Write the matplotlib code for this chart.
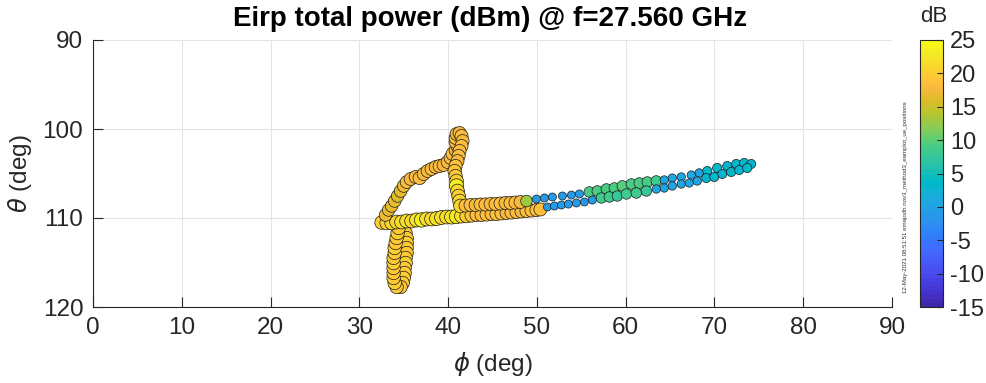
import numpy as np
import matplotlib
matplotlib.use("Agg")
import matplotlib.pyplot as plt
from matplotlib.colors import ListedColormap

plt.rcParams['font.family'] = ['Liberation Sans', 'DejaVu Sans']
plt.rcParams['mathtext.fontset'] = 'dejavusans'
plt.rcParams['axes.unicode_minus'] = False

# ---- user-equipment positions (phi, theta in deg) and EIRP (dBm) ----
# vertical loop
loop_phi = [34.99, 35.21, 35.33, 35.33, 35.33, 35.33, 35.21, 35.21, 35.10, 35.10, 34.99, 34.88, 34.65,
            34.20, 33.98, 33.86, 33.86, 33.86, 33.86, 33.86, 33.98, 33.98, 34.09, 34.20, 34.31, 34.43]
loop_theta = [111.12, 111.69, 112.25, 112.81, 113.37, 113.93, 114.49, 115.06, 115.62, 116.18, 116.74, 117.30, 117.75,
              117.75, 117.30, 116.74, 116.18, 115.62, 115.06, 114.49, 113.93, 113.37, 112.81, 112.25, 111.69, 111.12]
loop_pwr = [19.8, 19.5, 19.9, 20.2, 19.7, 19.4, 19.8, 20.1, 19.6, 19.9, 20.3, 19.7, 19.5,
            19.6, 20.0, 19.8, 19.4, 19.9, 20.2, 19.7, 19.5, 20.0, 19.8, 19.6, 20.1, 19.9]

# lower horizontal band
band_phi = [32.51, 33.08, 33.64, 34.20, 34.76, 35.33, 35.89, 36.45, 37.01, 37.58, 38.14, 38.70, 39.26,
            39.83, 40.39, 40.95, 41.51, 42.08, 42.64, 43.20, 43.76, 44.33, 44.89, 45.45, 46.01, 46.58,
            47.14, 47.70, 48.26, 48.83, 49.39, 49.95, 50.40]
band_theta = [110.51, 110.56, 110.56, 110.45, 110.45, 110.34, 110.34, 110.22, 110.22, 110.11, 110.11, 110.06,
              109.94, 109.89, 109.89, 109.83, 109.78, 109.78, 109.72, 109.66, 109.66, 109.61, 109.55, 109.55,
              109.49, 109.44, 109.38, 109.33, 109.27, 109.21, 109.16, 109.10, 109.04]
band_pwr = [20.2, 20.5, 20.8, 21.0,
            21.3, 21.6, 21.2, 22.0, 23.2, 21.8, 21.5, 22.2, 21.7, 21.4, 22.0, 23.4, 21.6,
            20.0, 19.0, 18.6, 18.3, 18.5, 18.2, 18.8, 18.4, 18.1, 18.6, 18.3, 18.0, 18.5, 18.2, 18.7, 18.4]

# triangular excursion up to theta ~100 deg
tri_phi = [32.96, 33.30, 33.64, 33.98, 34.31, 34.65, 34.99,
           35.33, 35.78, 36.34, 36.79, 37.24, 37.69, 38.14, 38.59, 39.04, 39.49, 39.94,
           40.28, 40.50, 40.84, 41.06, 40.84, 40.84, 40.95, 41.29, 41.51, 41.63, 41.51,
           41.29, 41.18, 41.06, 40.84, 40.73, 40.84, 40.95, 40.95, 41.06, 41.18, 41.29, 41.40]
tri_theta = [109.66, 109.10, 108.65, 108.09, 107.53, 106.97, 106.40,
             105.96, 105.62, 105.39, 105.51, 105.06, 104.72, 104.49, 104.27, 104.16, 104.04, 103.71,
             103.26, 102.81, 102.36, 101.91, 101.46, 101.01, 100.56, 100.45, 100.79, 101.35, 101.91,
             102.47, 103.03, 103.60, 104.16, 104.72, 105.28, 105.84, 106.40, 106.97, 107.53, 108.09, 108.65]
tri_pwr = [17.0, 16.5, 16.3, 16.6, 16.2, 16.8, 17.0,
           17.5, 17.8, 18.0, 18.4, 17.9, 18.1, 18.3, 17.8, 18.2, 18.0, 17.9,
           18.0, 18.3, 17.8, 18.2, 18.5, 18.0, 17.7, 18.1, 18.4, 18.0, 18.2,
           18.3, 18.5, 18.1, 18.8, 19.2, 19.6, 20.5, 23.5, 21.0, 20.6, 20.8, 21.2]

# upper band towards phi ~50 deg
mid_phi = [41.96, 42.53, 43.09, 43.65, 44.21, 44.78, 45.34, 45.90, 46.46, 47.03, 47.59, 48.15, 48.83]
mid_theta = [108.60, 108.54, 108.54, 108.48, 108.48, 108.43, 108.43, 108.37, 108.31, 108.31, 108.26, 108.20, 108.09]
mid_pwr = [18.2, 18.5, 18.0, 18.3, 18.6, 18.1, 18.4, 18.2, 18.0, 18.5, 18.3, 17.8, 12.5]

# outbound track to phi ~74 deg (upper strand)
out_phi = [49.95, 50.85, 51.75, 52.88, 53.89, 54.79,
           55.91, 56.81, 57.83, 58.73, 59.63, 60.64, 61.54, 62.44, 63.45,
           64.35, 65.25, 66.26, 67.39, 68.29,
           69.19, 70.31, 71.44, 72.45, 73.35, 74.14]
out_theta = [107.87, 107.75, 107.64, 107.53, 107.42, 107.30,
             107.08, 106.97, 106.74, 106.63, 106.40, 106.18, 106.07, 105.96, 105.84,
             105.73, 105.51, 105.39, 105.17, 104.94,
             104.72, 104.38, 104.16, 103.93, 103.82, 103.93]
out_pwr = [-1.0, -0.8, -1.2, -0.9, -1.1, -0.7,
           9.0, 9.3, 8.8, 9.1, 9.4, 8.9, 9.2, 9.0, 8.7,
           0.5, 0.1, 0.4, 0.0, 0.6,
           3.2, 3.5, 3.0, 3.4, 3.6, 3.1]

# return track (lower strand)
ret_phi = [51.19, 51.98, 52.76, 53.55, 54.45, 55.35, 56.25,
           57.26, 58.16, 59.06, 60.08, 61.20, 62.33,
           63.45, 64.35, 65.25, 66.26, 67.16, 68.06,
           69.08, 69.98, 70.88, 71.89, 72.79, 73.69]
ret_theta = [108.76, 108.65, 108.54, 108.43, 108.31, 108.20, 107.98,
             107.75, 107.64, 107.53, 107.30, 107.19, 106.97,
             106.74, 106.63, 106.40, 106.18, 106.07, 105.84,
             105.51, 105.39, 105.06, 104.83, 104.61, 104.38]
ret_pwr = [-1.2, -0.9, -1.1, -0.8, -1.0, -1.3, -0.7,
           8.2, 8.5, 8.0, 8.4, 8.6, 8.1,
           0.4, 0.1, 0.5, 0.2, 0.0, 0.4,
           3.0, 3.3, 2.8, 3.4, 3.1, 3.6]

clim = (-15, 25)
cbar_ticks = [-15, -10, -5, 0, 5, 10, 15, 20, 25]
x_ticks = [0, 10, 20, 30, 40, 50, 60, 70, 80, 90]
y_ticks = [90, 100, 110, 120]

PARULA = [
    [0.2422, 0.1504, 0.6603], [0.2504, 0.1650, 0.7076], [0.2578, 0.1818, 0.7511], [0.2647, 0.1978, 0.7952],
    [0.2706, 0.2147, 0.8364], [0.2751, 0.2342, 0.8710], [0.2783, 0.2559, 0.8991], [0.2803, 0.2782, 0.9221],
    [0.2813, 0.3006, 0.9414], [0.2810, 0.3228, 0.9579], [0.2795, 0.3447, 0.9717], [0.2760, 0.3667, 0.9829],
    [0.2699, 0.3892, 0.9906], [0.2602, 0.4123, 0.9952], [0.2440, 0.4358, 0.9988], [0.2206, 0.4603, 0.9973],
    [0.1963, 0.4847, 0.9892], [0.1834, 0.5074, 0.9798], [0.1786, 0.5289, 0.9682], [0.1764, 0.5499, 0.9520],
    [0.1687, 0.5703, 0.9359], [0.1540, 0.5902, 0.9218], [0.1460, 0.6091, 0.9079], [0.1380, 0.6276, 0.8973],
    [0.1248, 0.6459, 0.8883], [0.1113, 0.6635, 0.8763], [0.0952, 0.6798, 0.8598], [0.0689, 0.6948, 0.8394],
    [0.0297, 0.7082, 0.8163], [0.0036, 0.7203, 0.7917], [0.0067, 0.7312, 0.7660], [0.0433, 0.7411, 0.7394],
    [0.0964, 0.7500, 0.7120], [0.1408, 0.7584, 0.6842], [0.1717, 0.7670, 0.6554], [0.1938, 0.7758, 0.6251],
    [0.2161, 0.7843, 0.5923], [0.2470, 0.7918, 0.5567], [0.2906, 0.7973, 0.5188], [0.3406, 0.8008, 0.4789],
    [0.3909, 0.8029, 0.4354], [0.4456, 0.8024, 0.3909], [0.5044, 0.7993, 0.3480], [0.5616, 0.7942, 0.3045],
    [0.6174, 0.7876, 0.2612], [0.6720, 0.7793, 0.2227], [0.7242, 0.7698, 0.1910], [0.7738, 0.7598, 0.1646],
    [0.8203, 0.7498, 0.1535], [0.8634, 0.7406, 0.1596], [0.9035, 0.7330, 0.1774], [0.9393, 0.7288, 0.2100],
    [0.9728, 0.7298, 0.2394], [0.9956, 0.7434, 0.2371], [0.9970, 0.7659, 0.2199], [0.9952, 0.7893, 0.2028],
    [0.9892, 0.8136, 0.1885], [0.9786, 0.8386, 0.1766], [0.9676, 0.8639, 0.1643], [0.9610, 0.8890, 0.1537],
    [0.9597, 0.9135, 0.1423], [0.9628, 0.9373, 0.1265], [0.9691, 0.9606, 0.1064], [0.9769, 0.9839, 0.0805],
]
parula = ListedColormap(PARULA, name="parula")

phi = np.concatenate([loop_phi, band_phi, tri_phi, mid_phi, out_phi, ret_phi])
theta = np.concatenate([loop_theta, band_theta, tri_theta, mid_theta, out_theta, ret_theta])
pwr = np.concatenate([loop_pwr, band_pwr, tri_pwr, mid_pwr, out_pwr, ret_pwr])

# marker diameter grows with power
dpi = 100
diam_px = np.clip(8.3 + 0.26 * pwr, 7.0, None)
sizes = (diam_px * 72.0 / dpi) ** 2

W, H = 987, 383
fig = plt.figure(figsize=(W / dpi, H / dpi), dpi=dpi)
fig.patch.set_facecolor('white')

ax = fig.add_axes([93 / W, 76 / H, 799 / W, 267 / H])
dark = '#262626'

sc = ax.scatter(phi, theta, s=sizes, c=pwr, cmap=parula, vmin=clim[0], vmax=clim[1],
                edgecolors='#1a1a1a', linewidths=0.5, zorder=3)

ax.set_xlim(0, 90)
ax.set_ylim(120, 90)
ax.set_xticks(x_ticks)
ax.set_yticks(y_ticks)
ax.grid(True, color='#e3e3e3', linewidth=0.8, zorder=0)
ax.set_axisbelow(True)
for s in ('top', 'right'):
    ax.spines[s].set_visible(False)
for s in ('left', 'bottom'):
    ax.spines[s].set_color(dark)
    ax.spines[s].set_linewidth(0.8)
ax.tick_params(direction='in', length=7, width=0.8, colors=dark, labelsize=17.5, pad=7)
for lab in ax.get_xticklabels() + ax.get_yticklabels():
    lab.set_color(dark)

ax.set_xlabel(r'$\phi$ (deg)', fontsize=17.5, color=dark)
ax.set_ylabel(r'$\theta$ (deg)', fontsize=17.5, color=dark)
ax.xaxis.set_label_coords(0.5, -0.16)
ax.yaxis.set_label_coords(-0.074, 0.5)

fig.text(490 / W, 1 - 19 / H, 'Eirp total power (dBm) @ f=27.560 GHz', ha='center', va='center',
         fontsize=20, fontweight='bold', color='black')

cax = fig.add_axes([920 / W, 76 / H, 23 / W, 267 / H])
cb = fig.colorbar(sc, cax=cax, ticks=cbar_ticks)
cb.outline.set_edgecolor(dark)
cb.outline.set_linewidth(0.8)
cb.ax.tick_params(direction='in', length=4, width=0.8, colors=dark, labelsize=17, pad=5)
fig.text(934 / W, 1 - 17 / H, 'dB', ha='center', va='center', fontsize=16, color=dark)

fig.text(906 / W, 1 - 197 / H, '12-May-2021 08:51:51 emajodh nov3_method3_eamplot_ue_positions',
         rotation=90, ha='center', va='center', fontsize=4.4, color='#333333')

fig.savefig('out.png', dpi=dpi)
